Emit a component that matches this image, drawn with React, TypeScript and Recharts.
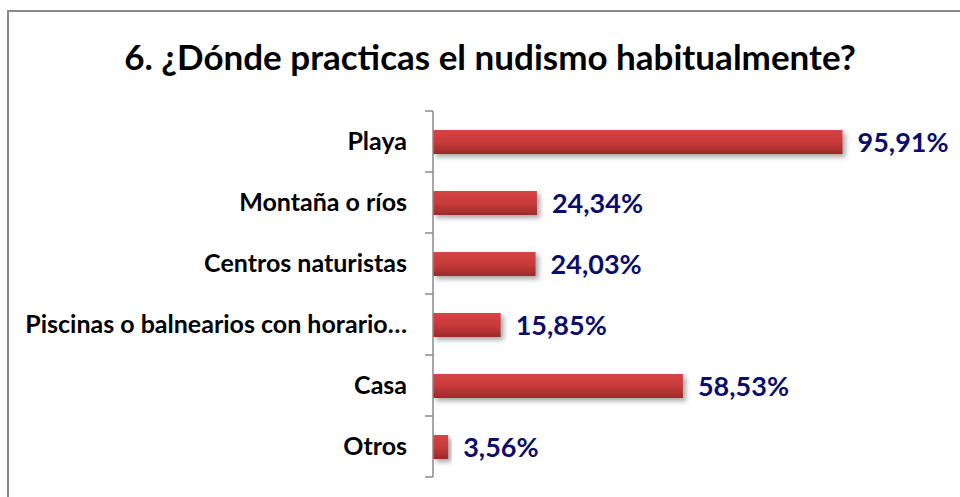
import React from "react";
import { BarChart, Bar, XAxis, YAxis, LabelList } from "recharts";

const categories = [
  "Playa",
  "Montaña o ríos",
  "Centros naturistas",
  "Piscinas o balnearios con horario…",
  "Casa",
  "Otros",
];
const percentages = [95.91, 24.34, 24.03, 15.85, 58.53, 3.56];

const data = categories.map((name, i) => ({ name, value: percentages[i] }));

const FONT = "Lato, 'Open Sans', sans-serif";
const TICK_SIZE = 8;
const TICK_MARGIN = 18;
const AXIS_GRAY = "#8a8a8a";

const formatPct = (v: any) => `${Number(v).toFixed(2).replace(".", ",")}%`;

// category label plus tick marks on the band boundaries (Excel style)
const CategoryTick = (props: any) => {
  const { x, y, payload, index, visibleTicksCount } = props;
  const axisX = x + TICK_SIZE + TICK_MARGIN;
  const half = payload.offset || 0;
  const isLast = index === (visibleTicksCount ?? categories.length) - 1;
  return (
    <g>
      <line x1={axisX - TICK_SIZE} x2={axisX} y1={y - half} y2={y - half} stroke={AXIS_GRAY} strokeWidth={1.5} />
      {isLast && (
        <line x1={axisX - TICK_SIZE} x2={axisX} y1={y + half} y2={y + half} stroke={AXIS_GRAY} strokeWidth={1.5} />
      )}
      <text x={x} y={y} dy="0.35em" textAnchor="end" fill="#000" fontSize={25} fontWeight={700} fontFamily={FONT}>
        {payload.value}
      </text>
    </g>
  );
};

const App = () => {
  return (
    <div style={{ position: "absolute", left: 0, top: 0, width: 960, height: 497, background: "#fff", overflow: "hidden", fontFamily: FONT }}>
      <div
        style={{
          position: "absolute",
          left: 7,
          top: 10,
          width: 1000,
          height: 600,
          borderLeft: `2px solid ${AXIS_GRAY}`,
          borderTop: `2px solid ${AXIS_GRAY}`,
        }}
      />
      <div
        style={{
          position: "absolute",
          left: 0,
          width: 980,
          top: 34,
          textAlign: "center",
          fontSize: 35,
          fontWeight: 700,
          color: "#000",
          lineHeight: "44px",
        }}
      >
        6. ¿Dónde practicas el nudismo habitualmente?
      </div>
      <div style={{ position: "absolute", left: 0, top: 0 }}>
        <BarChart
          width={960}
          height={497}
          data={data}
          layout="vertical"
          margin={{ top: 111, right: 100, bottom: 20, left: 0 }}
        >
          <defs>
            <linearGradient id="barFill" x1="0" y1="0" x2="0" y2="1">
              <stop offset="0%" stopColor="#d44545" />
              <stop offset="50%" stopColor="#c93a3a" />
              <stop offset="100%" stopColor="#9c2a2a" />
            </linearGradient>
            <filter id="barShadow" x="-10%" y="-30%" width="130%" height="190%">
              <feDropShadow dx="3" dy="3" stdDeviation="2.5" floodColor="#000" floodOpacity="0.35" />
            </filter>
          </defs>
          <XAxis type="number" domain={[0, 100]} hide />
          <YAxis
            type="category"
            dataKey="name"
            width={433}
            axisLine={{ stroke: AXIS_GRAY, strokeWidth: 1.5 }}
            tickLine={false}
            tickSize={TICK_SIZE}
            tickMargin={TICK_MARGIN}
            interval={0}
            tick={<CategoryTick />}
          />
          <Bar
            dataKey="value"
            barSize={24}
            fill="url(#barFill)"
            filter="url(#barShadow)"
            isAnimationActive={false}
          >
            <LabelList
              dataKey="value"
              position="right"
              offset={15}
              formatter={formatPct}
              style={{ fill: "#0c0c6a", fontSize: 27, fontWeight: 700, fontFamily: FONT }}
            />
          </Bar>
        </BarChart>
      </div>
    </div>
  );
};

export default App;
